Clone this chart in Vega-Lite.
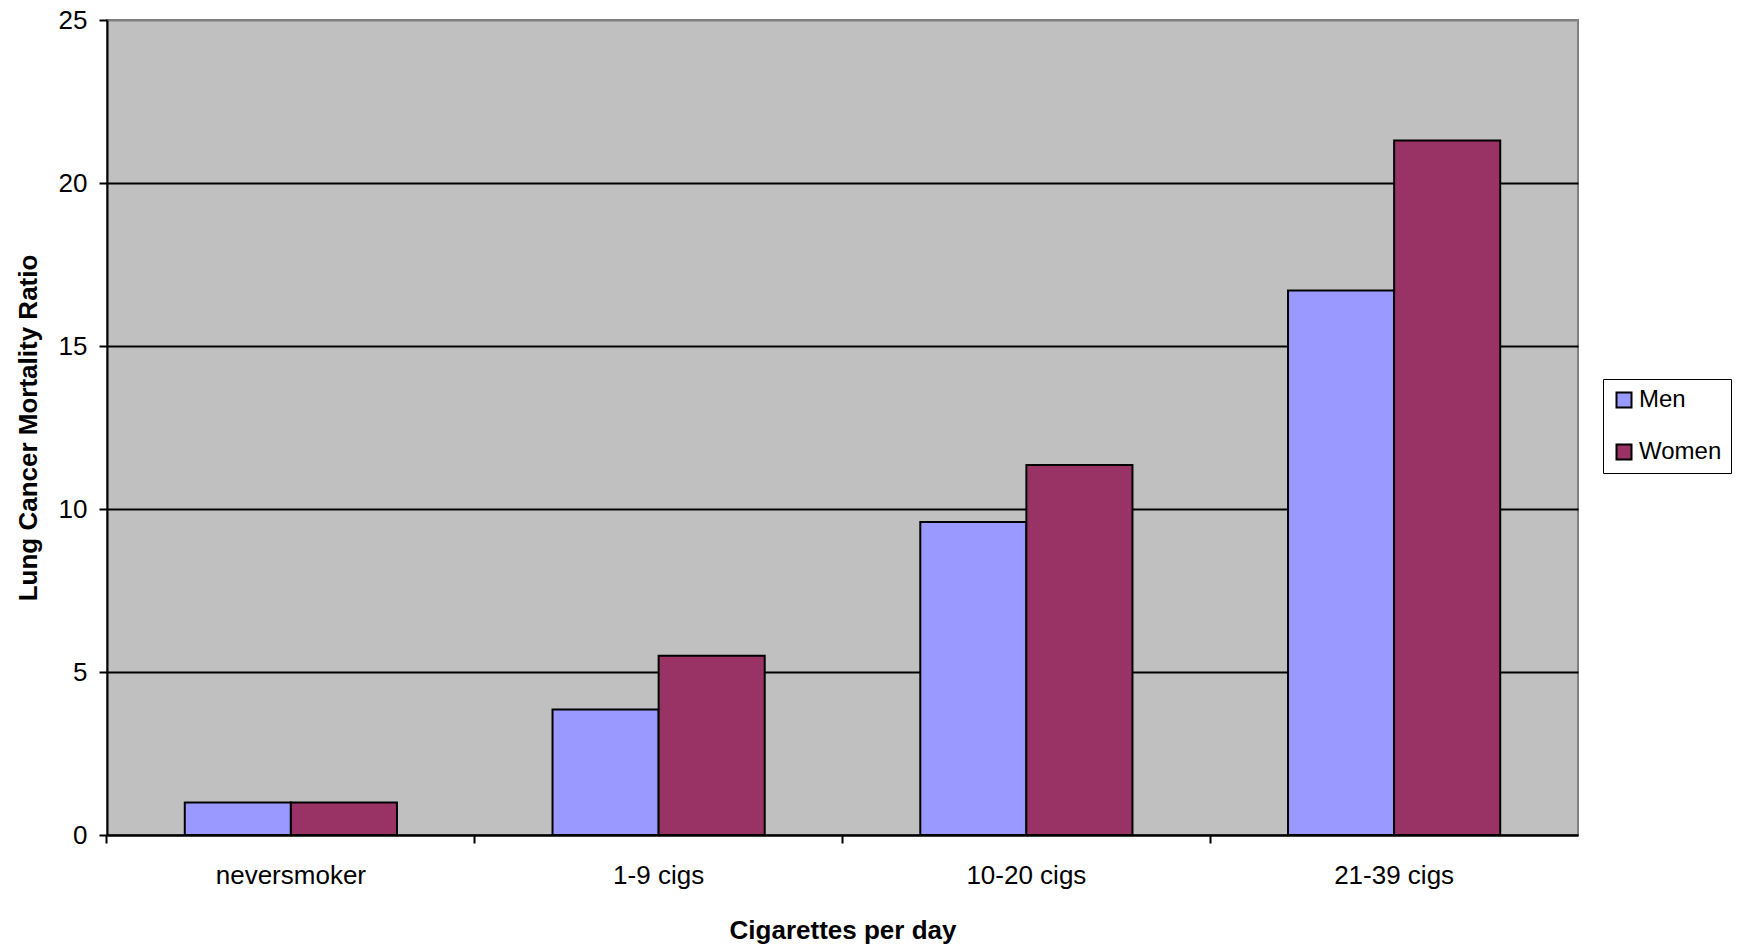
{
  "$schema": "https://vega.github.io/schema/vega-lite/v6.json",
  "width": 1471,
  "height": 815,
  "autosize": {"type": "none"},
  "padding": {"left": 107, "top": 20, "right": 161, "bottom": 111},
  "background": "white",
  "config": {
    "font": "Liberation Sans",
    "view": {"fill": "#C0C0C0", "stroke": "#808080", "strokeWidth": 2}
  },
  "data": {
    "values": [
      {"group": "neversmoker", "sex": "Men", "ratio": 1.0},
      {"group": "neversmoker", "sex": "Women", "ratio": 1.0},
      {"group": "1-9 cigs", "sex": "Men", "ratio": 3.85},
      {"group": "1-9 cigs", "sex": "Women", "ratio": 5.5},
      {"group": "10-20 cigs", "sex": "Men", "ratio": 9.6},
      {"group": "10-20 cigs", "sex": "Women", "ratio": 11.35},
      {"group": "21-39 cigs", "sex": "Men", "ratio": 16.7},
      {"group": "21-39 cigs", "sex": "Women", "ratio": 21.3}
    ]
  },
  "mark": {"type": "bar", "stroke": "black", "strokeWidth": 2},
  "encoding": {
    "x": {
      "field": "group",
      "type": "nominal",
      "sort": ["neversmoker", "1-9 cigs", "10-20 cigs", "21-39 cigs"],
      "scale": {"paddingInner": 0.423, "paddingOuter": 0.2115},
      "axis": {
        "title": "Cigarettes per day",
        "titleFont": "Liberation Sans",
        "titleFontSize": 26,
        "titleFontWeight": "bold",
        "titleColor": "black",
        "titlePadding": 29,
        "labelAngle": 0,
        "labelFontSize": 26,
        "labelColor": "black",
        "labelPadding": 19,
        "bandPosition": -0.3666,
        "ticks": true,
        "tickSize": 8,
        "tickWidth": 2,
        "tickColor": "black",
        "domainColor": "black",
        "domainWidth": 2,
        "grid": false
      }
    },
    "xOffset": {
      "field": "sex",
      "type": "nominal",
      "sort": ["Men", "Women"],
      "scale": {"paddingInner": 0, "paddingOuter": 0}
    },
    "y": {
      "field": "ratio",
      "type": "quantitative",
      "scale": {"domain": [0, 25], "nice": false},
      "axis": {
        "title": "Lung Cancer Mortality Ratio",
        "titleFont": "Liberation Sans",
        "titleFontSize": 26,
        "titleFontWeight": "bold",
        "titleColor": "black",
        "titlePadding": 17,
        "values": [0, 5, 10, 15, 20, 25],
        "labelFontSize": 26,
        "labelColor": "black",
        "labelPadding": 12,
        "tickSize": 8,
        "tickWidth": 2,
        "tickColor": "black",
        "domainColor": "black",
        "domainWidth": 2,
        "grid": true,
        "gridColor": {
          "condition": {"test": "datum.value === 25", "value": "#808080"},
          "value": "black"
        },
        "gridWidth": 2,
        "gridOpacity": 1
      }
    },
    "color": {
      "field": "sex",
      "type": "nominal",
      "sort": ["Men", "Women"],
      "scale": {"domain": ["Men", "Women"], "range": ["#9999FF", "#993366"]},
      "legend": {
        "title": null,
        "orient": "none",
        "legendX": 1496,
        "legendY": 359,
        "direction": "vertical",
        "fillColor": "white",
        "strokeColor": "black",
        "padding": 9,
        "symbolType": "square",
        "symbolSize": 225,
        "symbolStrokeColor": "black",
        "symbolStrokeWidth": 2,
        "symbolOpacity": 1,
        "labelFontSize": 24,
        "labelColor": "black",
        "labelOffset": 3,
        "rowPadding": 28
      }
    }
  }
}
